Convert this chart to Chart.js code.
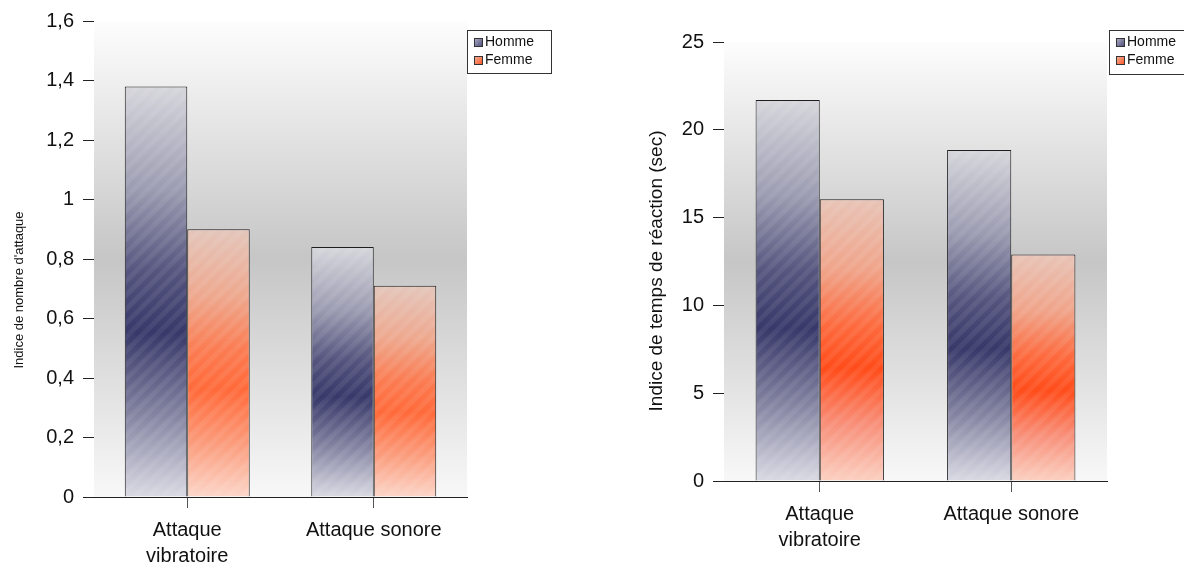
<!DOCTYPE html>
<html>
<head>
<meta charset="utf-8">
<script src="https://cdn.jsdelivr.net/npm/chart.js@4.4.1/dist/chart.umd.min.js"></script>
<style>
  html, body { margin: 0; padding: 0; background: #fff; }
  #wrap { position: relative; width: 1184px; height: 564px; overflow: hidden; }
  canvas { position: absolute; top: 0; }
</style>
</head>
<body>
<div id="wrap">
  <canvas id="attaques" width="592" height="564" style="left:0"></canvas>
  <canvas id="temps" width="592" height="564" style="left:592px"></canvas>
</div>
<script>
// Data
const categories = [['Attaque', 'vibratoire'], 'Attaque sonore'];
const seriesNames = ['Homme', 'Femme'];
const hommeAttaques = [1.38, 0.84];
const femmeAttaques = [0.90, 0.71];
const hommeTemps = [21.7, 18.85];
const femmeTemps = [16.05, 12.9];
const attaquesTicks = [0, 0.2, 0.4, 0.6, 0.8, 1, 1.2, 1.4, 1.6];
const tempsTicks = [0, 5, 10, 15, 20, 25];

const FONT = "'Liberation Sans', Arial, sans-serif";

// vertical gradient light -> dark -> light over each bar
const stopPos = [0, 0.25, 0.45, 0.6, 0.8, 1];
function barGradient(stops) {
    return function (ctx) {
        const chart = ctx.chart;
        const y = chart.scales.y;
        if (!y || ctx.type !== 'data' || !chart.chartArea) return stops[3];
        const top = y.getPixelForValue(ctx.raw);
        const base = y.getPixelForValue(0);
        const g = chart.ctx.createLinearGradient(0, top, 0, base);
        stops.forEach((col, i) => g.addColorStop(stopPos[i], col));
        return g;
    };
}

const hommeStops = ['#d6d6dc', '#9c9cb2', '#55557f', '#38386a', '#8484a2', '#dadae4'];
const femmeStopsA = ['#e4c6bb', '#eea88e', '#fb7c52', '#ff6a3a', '#fb9c7c', '#fcd6c9'];
const femmeStopsB = ['#e8c4b7', '#f0a48a', '#fd6a3e', '#ff4c1a', '#f8907a', '#fbd0c1'];

// gray band behind the bars, diagonal stripes on the bars, legend box and y title
const decorPlugin = {
    id: 'decor',
    beforeDatasetsDraw(chart) {
        const a = chart.chartArea;
        const c = chart.ctx;
        const g = c.createLinearGradient(0, a.top, 0, a.bottom);
        g.addColorStop(0, '#fdfdfd');
        g.addColorStop(0.5, '#c6c6c6');
        g.addColorStop(1, '#f8f8f8');
        c.save();
        c.fillStyle = g;
        c.fillRect(a.left, a.top, a.right - a.left, a.bottom - a.top);
        c.restore();
    },
    afterDatasetsDraw(chart) {
        const c = chart.ctx;
        chart.data.datasets.forEach((ds, i) => {
            chart.getDatasetMeta(i).data.forEach(bar => {
                const p = bar.getProps(['x', 'y', 'base', 'width'], true);
                const l = p.x - p.width / 2, r = p.x + p.width / 2;
                const h = p.base - p.y;
                c.save();
                c.beginPath();
                c.rect(l + 1, p.y + 1, p.width - 2, h - 2);
                c.clip();
                c.strokeStyle = 'rgba(255,255,255,0.07)';
                c.lineWidth = 5;
                for (let k = l - h; k < r + 14; k += 14) {
                    c.beginPath();
                    c.moveTo(k, p.base);
                    c.lineTo(k + h, p.y);
                    c.stroke();
                }
                c.restore();
            });
        });
    },
    afterDraw(chart, args, opts) {
        const c = chart.ctx;
        // y axis title
        c.save();
        c.translate(opts.titleX, opts.titleY);
        c.rotate(-Math.PI / 2);
        c.font = opts.titleSize + 'px ' + FONT;
        c.fillStyle = '#111';
        c.textAlign = 'center';
        c.textBaseline = 'middle';
        c.fillText(opts.title, 0, 0);
        c.restore();

        // legend
        const lg = opts.legend;
        c.save();
        c.fillStyle = '#fff';
        c.fillRect(lg.x, lg.y, lg.w, lg.h);
        c.strokeStyle = '#333';
        c.lineWidth = 1;
        c.strokeRect(lg.x + 0.5, lg.y + 0.5, lg.w, lg.h);
        c.font = '14px ' + FONT;
        c.textBaseline = 'middle';
        chart.data.datasets.forEach((ds, i) => {
            const sy = lg.y + 8 + i * 18;
            const sg = c.createLinearGradient(lg.x + 7, sy, lg.x + 15, sy + 8);
            sg.addColorStop(0, ds.swatch[0]);
            sg.addColorStop(1, ds.swatch[1]);
            c.fillStyle = sg;
            c.fillRect(lg.x + 7, sy, 8, 8);
            c.strokeStyle = '#333';
            c.strokeRect(lg.x + 7.5, sy + 0.5, 8, 8);
            c.fillStyle = '#111';
            c.fillText(ds.label, lg.x + 18, sy + 4.5);
        });
        c.restore();
    }
};

function commaLabel(v) {
    return String(Math.round(v * 10) / 10).replace('.', ',');
}

function makeChart(id, homme, femme, femmeStops, tickList, layout) {
    const step = tickList[1] - tickList[0];
    return new Chart(document.getElementById(id), {
        type: 'bar',
        data: {
            labels: categories,
            datasets: [
                {
                    label: seriesNames[0],
                    data: homme,
                    backgroundColor: barGradient(hommeStops),
                    borderColor: '#1e1e1e',
                    borderWidth: 1,
                    swatch: ['#b8b8cc', '#50507e']
                },
                {
                    label: seriesNames[1],
                    data: femme,
                    backgroundColor: barGradient(femmeStops),
                    borderColor: '#1e1e1e',
                    borderWidth: 1,
                    swatch: ['#f0b8a4', '#ff5a28']
                }
            ]
        },
        options: {
            responsive: false,
            animation: false,
            layout: { padding: { left: 0, top: layout.top, right: layout.right, bottom: 0 } },
            datasets: { bar: { categoryPercentage: 0.67, barPercentage: 1 } },
            plugins: {
                legend: { display: false },
                tooltip: { enabled: false },
                decor: {
                    title: layout.title,
                    titleSize: layout.titleSize,
                    titleX: layout.titleX,
                    titleY: layout.titleY,
                    legend: layout.legend
                }
            },
            scales: {
                x: {
                    afterFit(s) { s.height = layout.xHeight; },
                    grid: { offset: false, drawOnChartArea: false, tickLength: 11, color: '#555' },
                    border: { display: true, color: '#222', width: 1 },
                    ticks: {
                        padding: 9,
                        color: '#111',
                        maxRotation: 0,
                        font: { family: FONT, size: 20, lineHeight: 1.3 }
                    }
                },
                y: {
                    min: tickList[0],
                    max: tickList[tickList.length - 1],
                    afterFit(s) { s.width = layout.yWidth; },
                    grid: { drawOnChartArea: false, tickLength: 11, color: '#222' },
                    border: { display: true, color: '#222', width: 1 },
                    ticks: {
                        stepSize: step,
                        padding: 9,
                        color: '#111',
                        font: { family: FONT, size: 20 },
                        callback: v => commaLabel(v)
                    }
                }
            }
        },
        plugins: [decorPlugin]
    });
}

makeChart('attaques', hommeAttaques, femmeAttaques, femmeStopsA, attaquesTicks, {
    top: 21, right: 125, xHeight: 67, yWidth: 94,
    title: "Indice de nombre d'attaque", titleSize: 13, titleX: 19, titleY: 290,
    legend: { x: 467, y: 30, w: 84, h: 43 }
});

makeChart('temps', hommeTemps, femmeTemps, femmeStopsB, tempsTicks, {
    top: 42, right: 77, xHeight: 83, yWidth: 132,
    title: 'Indice de temps de réaction (sec)', titleSize: 19, titleX: 65, titleY: 271,
    legend: { x: 517, y: 30, w: 90, h: 44 }
});
</script>
</body>
</html>
